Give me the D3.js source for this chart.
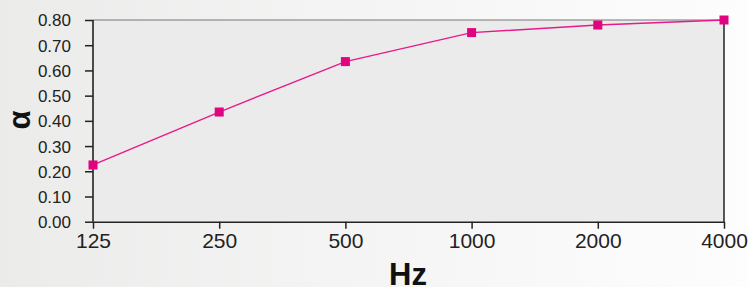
<!DOCTYPE html>
<html><head><meta charset="utf-8">
<script src="https://cdn.jsdelivr.net/npm/d3@7/dist/d3.min.js"></script>
<style>html,body{margin:0;padding:0;overflow:hidden;background:#fff}</style>
</head><body>
<svg id="c" width="748" height="287"></svg>
<script>
const categories = ["125", "250", "500", "1000", "2000", "4000"];
const alphaValues = [0.225, 0.435, 0.635, 0.75, 0.78, 0.80];
const yTicks = [0, 0.1, 0.2, 0.3, 0.4, 0.5, 0.6, 0.7, 0.8];

const svg = d3.select("#c");
const W = 748, H = 287;
const m = {left: 93, right: 24, top: 20, bottom: 65};

const defs = svg.append("defs");
const g1 = defs.append("linearGradient").attr("id","bg").attr("x1","0").attr("x2","1").attr("y1","0").attr("y2","0");
g1.append("stop").attr("offset","0").attr("stop-color","#ebebea");
g1.append("stop").attr("offset","0.45").attr("stop-color","#f5f4f4");
g1.append("stop").attr("offset","1").attr("stop-color","#fefdfd");
svg.append("rect").attr("width",W).attr("height",H).attr("fill","url(#bg)");

const x = d3.scalePoint().domain(categories).range([m.left, W - m.right]);
const y = d3.scaleLinear().domain([0, 0.8]).range([H - m.bottom - 0.3, m.top]);

// plot area
svg.append("rect").attr("x", m.left).attr("y", m.top)
  .attr("width", W - m.right - m.left).attr("height", y(0) - m.top)
  .attr("fill", "#ebebeb");
svg.append("line").attr("x1", m.left).attr("x2", W - m.right).attr("y1", m.top).attr("y2", m.top)
  .attr("stroke", "#777").attr("stroke-width", 1);
svg.append("line").attr("x1", W - m.right).attr("x2", W - m.right).attr("y1", m.top).attr("y2", y(0))
  .attr("stroke", "#222").attr("stroke-width", 1.5);

const yAxis = svg.append("g").attr("transform", `translate(${m.left},0)`)
  .call(d3.axisLeft(y).tickValues(yTicks).tickFormat(d3.format(".2f")).tickSize(8).tickPadding(14));
const xAxis = svg.append("g").attr("transform", `translate(0,${y(0)})`)
  .call(d3.axisBottom(x).tickSize(7).tickPadding(4).tickSizeOuter(0));
[yAxis, xAxis].forEach(a => {
  a.select(".domain").attr("stroke", "#222").attr("stroke-width", 1.6);
  a.selectAll(".tick line").attr("stroke", "#222").attr("stroke-width", 1.5);
  a.selectAll("text").attr("fill", "#222").style("font-family", "'Liberation Sans', Arial, sans-serif");
});
yAxis.select(".domain").attr("d", `M0,${y(0)}V${m.top}`);
yAxis.selectAll("text").style("font-size", "17px").attr("dy", "0.35em");
xAxis.selectAll("text").style("font-size", "21px");

const line = d3.line().x((d, i) => x(categories[i])).y(d => y(d));
svg.append("path").datum(alphaValues).attr("d", line)
  .attr("fill", "none").attr("stroke", "#e8198a").attr("stroke-width", 1.4);
svg.selectAll("rect.pt").data(alphaValues).join("rect").attr("class", "pt")
  .attr("x", (d, i) => x(categories[i]) - 4.5).attr("y", d => y(d) - 4.5)
  .attr("width", 9).attr("height", 9).attr("fill", "#e0047f");

svg.append("text").attr("x", 408).attr("y", 285).attr("text-anchor", "middle")
  .style("font-family", "'Liberation Sans', Arial, sans-serif").style("font-weight", "bold")
  .style("font-size", "31px").attr("fill", "#111").text("Hz");
svg.append("text").attr("transform", "translate(30,120) rotate(-90)").attr("text-anchor", "middle")
  .style("font-family", "'Liberation Sans', Arial, sans-serif").style("font-weight", "bold")
  .style("font-size", "31px").attr("fill", "#111").text("α");
</script>
</body></html>
